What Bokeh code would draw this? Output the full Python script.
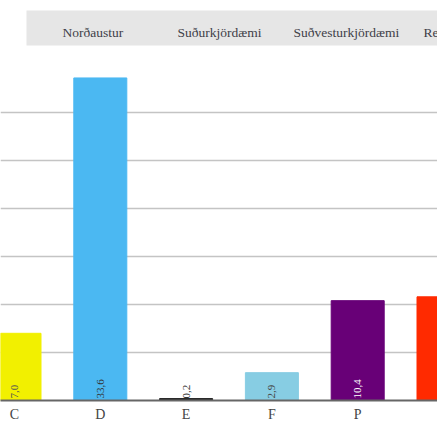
from bokeh.plotting import figure
from bokeh.models import Range1d, FixedTicker, Grid, ColumnDataSource
from bokeh.core.properties import value
from bokeh.embed import file_html
from bokeh.resources import INLINE

# ---- data ----
parties = ["C", "D", "E", "F", "P", "S"]
votes = [7.0, 33.6, 0.2, 2.9, 10.4, 10.8]
bar_colors = ["#f2f000", "#4bb8f2", "#222222", "#87cde3", "#680077", "#ff2a00"]
label_colors = ["#555555", "#333333", "#333333", "#444444", "#ffffff", "#ff66cc"]
tabs = ["Norðaustur", "Suðurkjördæmi", "Suðvesturkjördæmi", "Reykjavík norður"]
grid_ticks = [5, 10, 15, 20, 25, 30]

# ---- layout (pixels) ----
W, H = 437, 437
BOTTOM = 37
FRAME_H = H - BOTTOM
PX_PER_UNIT_Y = 9.6
PX_PER_CAT = 85.8
FIRST_CENTER_PX = 14.0

x_start = -FIRST_CENTER_PX / PX_PER_CAT
x_end = x_start + W / PX_PER_CAT
y_end = FRAME_H / PX_PER_UNIT_Y


def px_x(fx):
    return x_start + fx / PX_PER_CAT


def px_y(fy):
    return y_end - fy / PX_PER_UNIT_Y


p = figure(width=W, height=H, output_backend="svg", toolbar_location=None,
           x_range=Range1d(x_start, x_end), y_range=Range1d(0, y_end),
           y_axis_location=None, min_border_left=0, min_border_right=0,
           min_border_top=0, min_border_bottom=BOTTOM)
p.outline_line_color = None
p.background_fill_color = "white"
p.xgrid.grid_line_color = None
p.ygrid.grid_line_color = None

g = Grid(dimension=1, ticker=FixedTicker(ticks=grid_ticks),
         grid_line_color="#c4c4c4", grid_line_width=1.5)
p.add_layout(g)

xs = list(range(len(parties)))
src = ColumnDataSource(dict(
    x=xs, top=votes, color=bar_colors, lc=label_colors,
    lab=[f"{v:.1f}".replace(".", ",") for v in votes],
))
p.vbar(x="x", top="top", width=53 / PX_PER_CAT, bottom=0, color="color", source=src)
p.text(x="x", y=0, text="lab", angle=1.5708, text_align="left",
       text_baseline="middle", y_offset=-2, text_color="lc",
       text_font=value("Liberation Serif"), text_font_size="11px", source=src)

# tab bar
p.quad(left=px_x(26), right=px_x(W + 20), top=px_y(10), bottom=px_y(45),
       color="#e6e6e6", line_color=None)
tab_left_px = [62, 177, 293, 423]
p.text(x=[px_x(v) for v in tab_left_px], y=[px_y(32)] * len(tabs), text=tabs,
       text_align="left", text_baseline="alphabetic", text_color="#404048",
       text_font=value("Liberation Serif"), text_font_size="13.5px")

ax = p.xaxis[0]
ax.ticker = FixedTicker(ticks=xs)
ax.major_label_overrides = {i: s for i, s in enumerate(parties)}
ax.major_tick_out = 0
ax.major_tick_in = 0
ax.minor_tick_out = 0
ax.minor_tick_in = 0
ax.axis_line_color = "#666666"
ax.axis_line_width = 2
ax.major_label_standoff = 6
ax.major_label_text_font = "Liberation Serif"
ax.major_label_text_font_size = "14px"
ax.major_label_text_color = "#444444"

open("out.html", "w").write(file_html(p, INLINE))
